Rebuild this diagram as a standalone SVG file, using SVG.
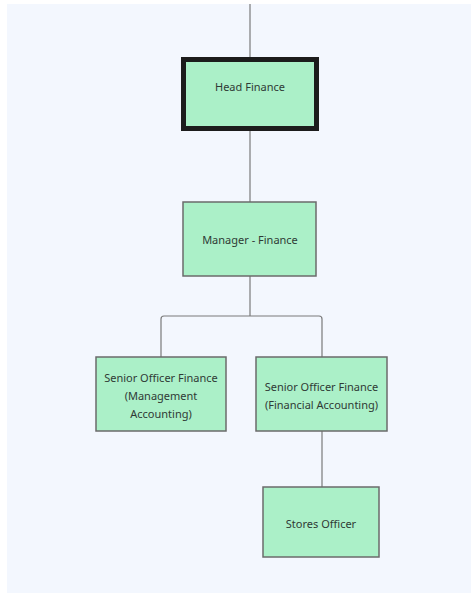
<svg xmlns="http://www.w3.org/2000/svg" width="471" height="593" viewBox="0 0 471 593">
  <style>
    .node { fill: #abf0c8; stroke: #6b6b6b; stroke-width: 1.5; }
    .head { fill: #abf0c8; stroke: #1c1c1c; stroke-width: 5; }
    .label { font-family: "Noto Sans", "Open Sans", sans-serif; font-size: 11px; fill: #2f3a35; text-anchor: middle; dominant-baseline: central; }
    .edge { fill: none; stroke: #7a7a7a; stroke-width: 1.2; }
  </style>
  <rect x="0" y="0" width="471" height="593" fill="#ffffff"/>
  <rect x="7" y="4" width="464" height="589" fill="#f3f7fe"/>

  <g id="connectors">
    <path class="edge" d="M250 4 V58"/>
    <path class="edge" d="M250 131 V202"/>
    <path class="edge" d="M250 276 V316"/>
    <path class="edge" d="M161 357 V319 Q161 316 164 316 H319 Q322 316 322 319 V357"/>
    <path class="edge" d="M322 431 V487"/>
  </g>

  <g id="head-finance">
    <rect class="head" x="183.5" y="59.5" width="133" height="69"/>
    <text class="label" x="250" y="86">Head Finance</text>
  </g>

  <g id="manager-finance">
    <rect class="node" x="183" y="202" width="133" height="74"/>
    <text class="label" x="250" y="239">Manager - Finance</text>
  </g>

  <g id="senior-officer-management">
    <rect class="node" x="96" y="357" width="130" height="74"/>
    <text class="label" x="161" y="377">Senior Officer Finance</text>
    <text class="label" x="161" y="395">(Management</text>
    <text class="label" x="161" y="413">Accounting)</text>
  </g>

  <g id="senior-officer-financial">
    <rect class="node" x="256" y="357" width="131" height="74"/>
    <text class="label" x="321.5" y="386">Senior Officer Finance</text>
    <text class="label" x="321.5" y="404">(Financial Accounting)</text>
  </g>

  <g id="stores-officer">
    <rect class="node" x="263" y="487" width="116" height="70"/>
    <text class="label" x="321" y="523">Stores Officer</text>
  </g>
</svg>
